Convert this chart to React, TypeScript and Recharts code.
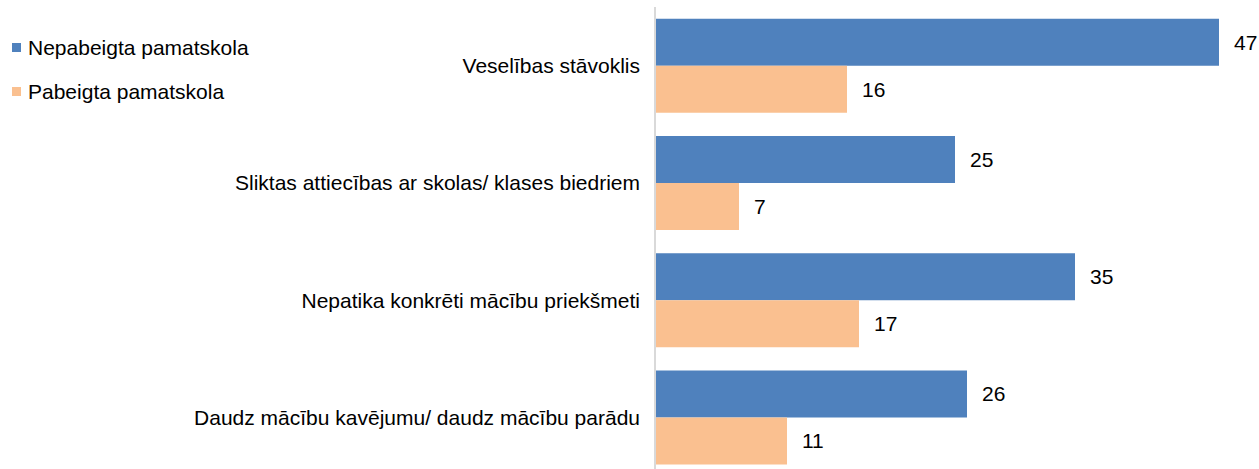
import { Bar, BarChart, LabelList, Legend, XAxis, YAxis } from 'recharts'

const categories = [
  'Veselības stāvoklis',
  'Sliktas attiecības ar skolas/ klases biedriem',
  'Nepatika konkrēti mācību priekšmeti',
  'Daudz mācību kavējumu/ daudz mācību parādu',
]
const nepabeigta = [47, 25, 35, 26]
const pabeigta = [16, 7, 17, 11]

const series = [
  { key: 'nepabeigta', name: 'Nepabeigta pamatskola', color: '#4F81BD' },
  { key: 'pabeigta', name: 'Pabeigta pamatskola', color: '#FAC090' },
]

const data = categories.map((name, i) => ({ name, nepabeigta: nepabeigta[i], pabeigta: pabeigta[i] }))

const font = '"Liberation Sans", Arial, sans-serif'
const fs = 21

function LegendBox() {
  return (
    <div style={{ fontFamily: font, fontSize: fs, color: '#000', lineHeight: 1 }}>
      {series.map(s => (
        <div key={s.key} style={{ display: 'flex', alignItems: 'center', height: 44 }}>
          <span style={{ width: 9, height: 9, background: s.color, display: 'inline-block', marginRight: 7 }} />
          <span>{s.name}</span>
        </div>
      ))}
    </div>
  )
}

export default function App() {
  return (
    <div style={{ position: 'absolute', left: 0, top: 0, width: 1259, height: 469, overflow: 'hidden', background: '#fff' }}>
      <BarChart
        width={1259}
        height={480}
        data={data}
        layout="vertical"
        margin={{ top: 7, right: 4, bottom: 4, left: 0 }}
        barCategoryGap="10%"
        barGap={0}
      >
        <XAxis type="number" domain={[0, 50]} hide />
        <YAxis
          type="category"
          dataKey="name"
          width={405}
          axisLine={{ stroke: '#D9D9D9', strokeWidth: 2 }}
          tickLine={false}
          tickSize={0}
          tickMargin={15}
          tick={{ fill: '#000', fontSize: fs, fontFamily: font }}
        />
        <Legend
          layout="vertical"
          align="left"
          verticalAlign="top"
          wrapperStyle={{ top: 25, left: 12, width: 250 }}
          content={() => <LegendBox />}
        />
        {series.map(s => (
          <Bar key={s.key} dataKey={s.key} name={s.name} fill={s.color} isAnimationActive={false}>
            <LabelList dataKey={s.key} position="right" offset={15} fill="#000" fontSize={fs} fontFamily={font} />
          </Bar>
        ))}
      </BarChart>
    </div>
  )
}
